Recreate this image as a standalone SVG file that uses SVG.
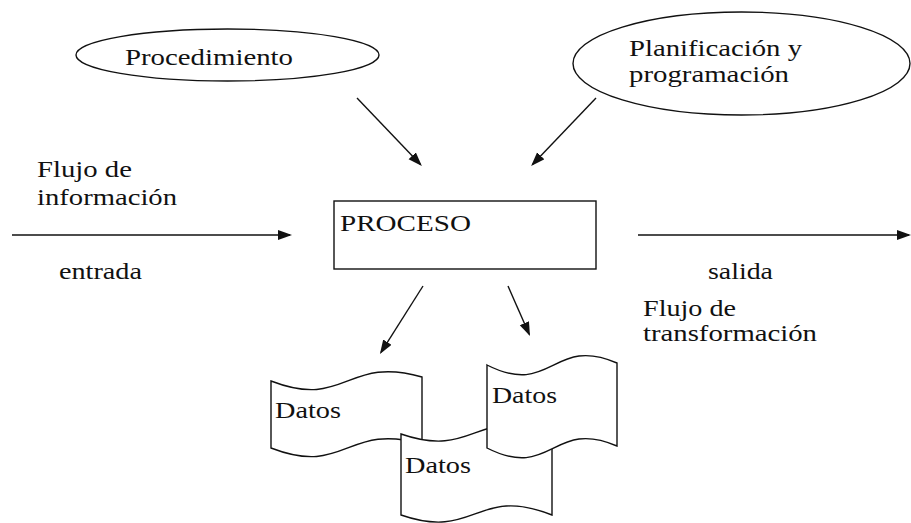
<svg xmlns="http://www.w3.org/2000/svg" width="911" height="523" viewBox="0 0 911 523" font-family="Liberation Serif, DejaVu Serif, serif">
<defs>
<style>
text{font-family:'Liberation Serif',serif}
.t{font-size:23px;fill:#111}
.s{fill:#fff;stroke:#111;stroke-width:1.4}
.c{stroke:#111;stroke-width:1.4;fill:none}
</style>
<marker id="ah" markerUnits="userSpaceOnUse" markerWidth="16" markerHeight="12" refX="12" refY="5" orient="auto">
<path d="M0,0 L14,5 L0,10 Z" fill="#111"/>
</marker>
</defs>
<rect width="911" height="523" fill="#fff"/>
<g id="procedimiento">
<ellipse class="s" cx="227.5" cy="55" rx="151.5" ry="26"/>
<text class="t" x="125" y="65" textLength="168" lengthAdjust="spacingAndGlyphs">Procedimiento</text>
</g>
<g id="planificacion">
<ellipse class="s" cx="741.5" cy="63.5" rx="168.5" ry="51.5"/>
<text class="t" x="629" y="56" textLength="173" lengthAdjust="spacingAndGlyphs">Planificación y</text>
<text class="t" x="629" y="82" textLength="160" lengthAdjust="spacingAndGlyphs">programación</text>
</g>
<g id="proceso">
<rect class="s" x="334" y="201" width="262" height="68"/>
<text class="t" x="340" y="231" textLength="131" lengthAdjust="spacingAndGlyphs">PROCESO</text>
</g>
<g id="labels">
<text class="t" x="37" y="177" textLength="95" lengthAdjust="spacingAndGlyphs">Flujo de</text>
<text class="t" x="37" y="205" textLength="140" lengthAdjust="spacingAndGlyphs">información</text>
<text class="t" x="59" y="279" textLength="83" lengthAdjust="spacingAndGlyphs">entrada</text>
<text class="t" x="708" y="279" textLength="65" lengthAdjust="spacingAndGlyphs">salida</text>
<text class="t" x="643" y="316" textLength="93" lengthAdjust="spacingAndGlyphs">Flujo de</text>
<text class="t" x="643" y="341" textLength="174" lengthAdjust="spacingAndGlyphs">transformación</text>
</g>
<g id="datos1">
<path class="s" d="M271,381 C346,410 346,355 422,377 L422,444 C346,422 346,477 271,448 Z"/>
<text class="t" x="275" y="418" textLength="66" lengthAdjust="spacingAndGlyphs">Datos</text>
</g>
<g id="datos2">
<path class="s" d="M401,434 C476,460 476,404 552,434 L552,515 C476,485 476,541 401,515 Z"/>
<text class="t" x="405" y="473" textLength="66" lengthAdjust="spacingAndGlyphs">Datos</text>
</g>
<g id="datos3">
<path class="s" d="M487,365 C552,398 552,335 617,363 L617,446 C552,418 552,481 487,448 Z"/>
<text class="t" x="492" y="403" textLength="65" lengthAdjust="spacingAndGlyphs">Datos</text>
</g>
<g id="connectors">
<line class="c" x1="357" y1="98" x2="420.5" y2="164.5" marker-end="url(#ah)"/>
<line class="c" x1="596" y1="98" x2="532.5" y2="164.5" marker-end="url(#ah)"/>
<line class="c" x1="12" y1="235" x2="290" y2="235" marker-end="url(#ah)"/>
<line class="c" x1="638" y1="235" x2="909" y2="235" marker-end="url(#ah)"/>
<line class="c" x1="423" y1="286" x2="381" y2="352.3" marker-end="url(#ah)"/>
<line class="c" x1="508" y1="286" x2="529.2" y2="334.2" marker-end="url(#ah)"/>
</g>
</svg>
